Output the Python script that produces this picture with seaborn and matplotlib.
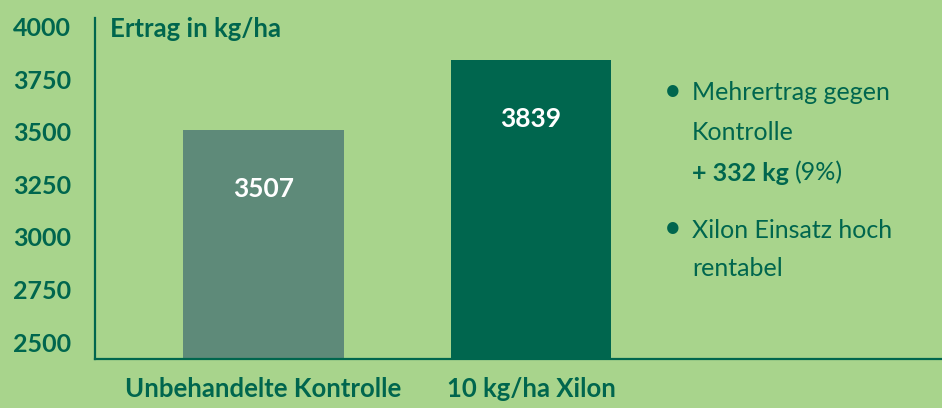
import matplotlib
matplotlib.use("Agg")
import matplotlib.pyplot as plt
import seaborn as sns
import pandas as pd

categories = ["Unbehandelte Kontrolle", "10 kg/ha Xilon"]
values = [3507, 3839]
bar_colors = ["#5E8A79", "#00664E"]
yticks = [2500, 2750, 3000, 3250, 3500, 3750, 4000]
title = "Ertrag in kg/ha"

BG = "#A8D48C"
DARK = "#00664E"

sns.set_theme(style="white")
plt.rcParams["font.family"] = ["Lato", "DejaVu Sans"]

fig = plt.figure(figsize=(9.42, 4.08), dpi=100, facecolor=BG)
ax = fig.add_axes([95/942, 1-359/408, 1-95/942, (359-18)/408])
ax.set_facecolor(BG)

df = pd.DataFrame({"cat": categories, "val": values})
sns.barplot(data=df, x="cat", y="val", hue="cat", palette=bar_colors,
            width=0.6, legend=False, ax=ax, saturation=1, linewidth=0)

ax.set_xlim(-0.63, 2.536)
ax.set_ylim(2420, 4040)
ax.set_yticks(yticks)
ax.set_yticklabels([str(t) for t in yticks], fontsize=18, fontweight="bold", color=DARK)
ax.set_xticks(range(len(categories)))
ax.set_xticklabels(categories, fontsize=18.5, fontweight="bold", color=DARK)
ax.tick_params(axis="y", length=0, pad=17)
ax.tick_params(axis="x", length=0, pad=13)
ax.set_xlabel("")
ax.set_ylabel("")

for s in ["top", "right"]:
    ax.spines[s].set_visible(False)
for s in ["left", "bottom"]:
    ax.spines[s].set_color(DARK)
    ax.spines[s].set_linewidth(1.6)

for p, v in zip(ax.patches, values):
    cx = p.get_x() + p.get_width() / 2
    ax.text(cx, v - 280, str(v), ha="center", va="center", color="white",
            fontsize=19, fontweight="bold")

fig.text(110/942, 1-29/408, title, ha="left", va="center", fontsize=18.5,
         fontweight="bold", color=DARK)

# right side notes
lx_b = 673/942
lx_t = 692/942
FS = 18
def fy(y):
    return 1 - y/408
fig.text(lx_b, fy(91), "•", ha="center", va="center", fontsize=22, color=DARK)
fig.text(lx_t, fy(93), "Mehrertrag gegen", ha="left", va="center", fontsize=FS,
         fontweight="normal", color=DARK)
fig.text(lx_t, fy(133), "Kontrolle", ha="left", va="center", fontsize=FS,
         fontweight="normal", color=DARK)
t1 = fig.text(lx_t, fy(173), "+ 332 kg", ha="left", va="center", fontsize=FS,
              fontweight="bold", color=DARK)
fig.canvas.draw()
bb = t1.get_window_extent()
fig.text((bb.x1 + 6)/942, fy(173), "(9%)", ha="left", va="center", fontsize=FS,
         fontweight="normal", color=DARK)
fig.text(lx_b, fy(228), "•", ha="center", va="center", fontsize=22, color=DARK)
fig.text(lx_t, fy(230), "Xilon Einsatz hoch", ha="left", va="center", fontsize=FS,
         fontweight="normal", color=DARK)
fig.text(lx_t, fy(268), "rentabel", ha="left", va="center", fontsize=FS,
         fontweight="normal", color=DARK)

fig.savefig("out.png", dpi=100, facecolor=BG)
